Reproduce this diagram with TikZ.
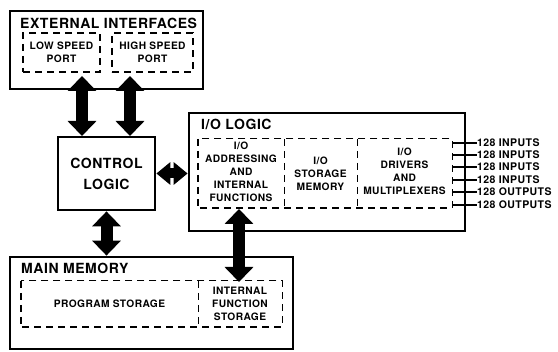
\documentclass[tikz,border=0pt]{standalone}
\usepackage{fontspec}
\setmainfont{TeX Gyre Heros}[LetterSpace=4]
\usetikzlibrary{arrows.meta}
\begin{document}
\begin{tikzpicture}[x=1pt,y=-1pt,
  tbox/.style={draw, line width=2.8pt, inner sep=0pt},
  dbox/.style={draw, line width=1.4pt, dash pattern=on 7pt off 5pt, inner sep=0pt},
  dline/.style={line width=1.4pt, dash pattern=on 7pt off 5pt},
  frame/.style={inner sep=0pt},
  ttl/.style={font=\fontsize{14}{20}\selectfont\bfseries, anchor=west, inner sep=0pt},
  big/.style={font=\fontsize{14}{21}\selectfont\bfseries, align=center, inner sep=0pt},
  txt/.style={font=\fontsize{10.2}{13}\selectfont\bfseries, align=center, inner sep=0pt},
  lbl/.style={font=\fontsize{10.5}{12}\selectfont\bfseries, anchor=west, inner sep=0pt},
  pin/.style={line width=1.2pt},
  bigarrow/.style={line width=12pt, {Triangle[width=28pt,length=15pt]}-{Triangle[width=28pt,length=15pt]}},
  smallarrow/.style={line width=10pt, {Triangle[width=22pt,length=14pt]}-{Triangle[width=22pt,length=14pt]}}
]
\useasboundingbox (0,0) rectangle (558,352);

% External interfaces
\node[tbox, minimum width=193pt, minimum height=78pt] (ext) at (106.5,50) {};
\node[ttl] (extt) at (20,23) {EXTERNAL INTERFACES};
\node[dbox, txt, minimum width=77pt, minimum height=39pt] (low) at (61.5,52.5) {LOW SPEED\\PORT};
\node[dbox, txt, minimum width=81pt, minimum height=39pt] (high) at (152.5,52.5) {HIGH SPEED\\PORT};

% Control logic
\node[tbox, big, minimum width=97pt, minimum height=73pt] (ctrl) at (106.5,173.5) {CONTROL\\LOGIC};

% I/O logic
\node[tbox, minimum width=276pt, minimum height=118pt] (io) at (327,172) {};
\node[ttl] (iot) at (201,124) {I/O LOGIC};
\node[frame, minimum width=86pt, minimum height=69pt] (fr1) at (241,173.5) {};
\node[frame, minimum width=73pt, minimum height=69pt] (fr2) at (320.5,173.5) {};
\node[frame, minimum width=95pt, minimum height=69pt] (fr3) at (404.5,173.5) {};
\draw[dline] (fr1.north west) rectangle (fr3.south east);
\draw[dline] (fr1.north east) -- (fr1.south east);
\draw[dline] (fr2.north east) -- (fr2.south east);
\node[txt] (c1) at (241,171.5) {I/O\\ADDRESSING\\AND\\INTERNAL\\FUNCTIONS};
\node[txt] (c2) at (320.5,174) {I/O\\STORAGE\\MEMORY};
\node[txt] (c3) at (404.5,171) {I/O\\DRIVERS\\AND\\MULTIPLEXERS};

% Right-side labels
\node[lbl] (in1) at (477,143) {128 INPUTS};
\node[lbl] (in2) at (477,155) {128 INPUTS};
\node[lbl] (in3) at (477,167) {128 INPUTS};
\node[lbl] (in4) at (477,180) {128 INPUTS};
\node[lbl] (out1) at (477,192) {128 OUTPUTS};
\node[lbl] (out2) at (477,205) {128 OUTPUTS};
\foreach \n in {in1,in2,in3,in4,out1,out2}
  \draw[pin] (fr3.east |- \n.west) -- (\n.west);

% Main memory
\node[tbox, minimum width=283pt, minimum height=92pt] (mm) at (151.5,303) {};
\node[ttl] (mmt) at (21,268) {MAIN MEMORY};
\node[frame, minimum width=177pt, minimum height=46pt] (fp) at (109.5,304) {};
\node[frame, minimum width=84pt, minimum height=46pt] (fi) at (240,304) {};
\draw[dline] (fp.north west) rectangle (fi.south east);
\draw[dline] (fp.north east) -- (fp.south east);
\node[txt] (pst) at (fp.center) {PROGRAM STORAGE};
\node[txt] (ist) at (fi.center) {INTERNAL\\FUNCTION\\STORAGE};

% Arrows
\coordinate (a1t) at (82,76);
\coordinate (a1b) at (82,136);
\coordinate (a2t) at (130,76);
\coordinate (a2b) at (130,136);
\coordinate (a5t) at (239,209);
\coordinate (a5b) at (239,282);
\draw[bigarrow] (a1t) -- (a1b);
\draw[bigarrow] (a2t) -- (a2b);
\draw[smallarrow] (ctrl.east) -- (ctrl.east -| io.west);
\draw[bigarrow] (ctrl.south) -- (ctrl.south |- mm.north);
\draw[bigarrow] (a5t) -- (a5b);
\end{tikzpicture}
\end{document}
